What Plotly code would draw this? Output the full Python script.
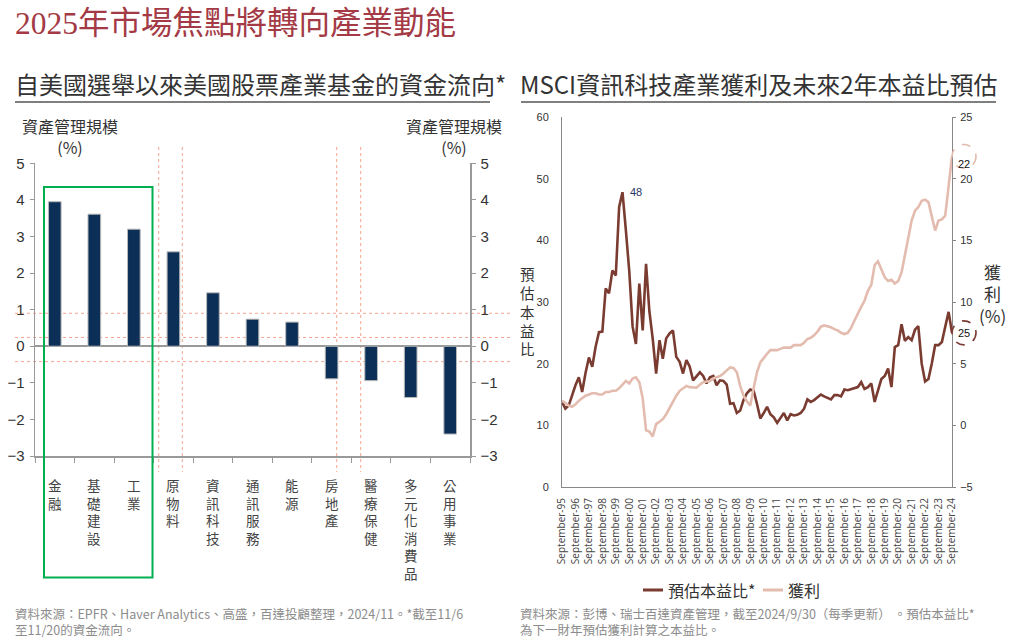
import plotly.graph_objects as go

# ---------------- data ----------------
sectors = ["金融", "基礎建設", "工業", "原物料", "資訊科技", "通訊服務",
           "能源", "房地產", "醫療保健", "多元化消費品", "公用事業"]
flows = [3.95, 3.61, 3.20, 2.58, 1.46, 0.74, 0.66, -0.89, -0.94, -1.40, -2.40]

# quarterly, Sep-1995 .. Sep-2024
pe = [13.8, 12.7, 13.2, 15.0, 16.5, 17.8, 15.4, 18.5, 21.0, 19.5,
      22.7, 25.1, 25.2, 32.2, 31.4, 35.1, 34.3, 45.4, 47.8, 41.6,
      35.0, 26.0, 23.2, 33.0, 25.4, 36.2, 28.5, 24.0, 18.4, 23.8,
      20.8, 24.1, 24.9, 25.4, 21.1, 20.3, 18.4, 20.6, 19.5, 17.3,
      17.9, 18.6, 18.0, 16.8, 17.8, 18.0, 16.5, 17.3, 17.2, 16.6,
      13.5, 13.6, 12.0, 12.4, 14.1, 15.2, 15.8, 15.6, 13.5, 11.1,
      12.0, 13.0, 11.8, 11.3, 10.4, 11.2, 12.0, 10.8, 11.8, 11.6,
      11.7, 12.0, 12.7, 14.2, 13.8, 14.1, 14.5, 15.0, 14.7, 14.5,
      14.2, 14.9, 14.9, 14.7, 15.8, 15.7, 15.9, 16.1, 16.2, 17.0,
      15.9, 16.2, 16.8, 13.8, 15.5, 17.5, 18.0, 19.2, 16.2, 22.7,
      23.0, 26.4, 23.7, 24.3, 23.8, 25.5, 26.1, 20.0, 17.1, 17.5,
      20.0, 23.0, 23.0, 23.5, 26.0, 28.4, 25.0]
earnings = [2.0, 1.8, 1.6, 1.5, 1.7, 2.0, 2.2, 2.4, 2.5, 2.6,
            2.6, 2.5, 2.5, 2.7, 2.7, 2.8, 2.8, 3.0, 3.3, 3.6,
            3.4, 3.8, 3.9, 3.5, 2.2, -0.4, -0.5, -0.9, 0.1, 0.3,
            0.5, 0.9, 1.4, 2.0, 2.4, 2.8, 3.0, 3.2, 3.1, 3.1,
            3.05, 3.3, 3.5, 3.55, 3.6, 3.8, 3.9, 4.0, 4.2, 4.45,
            4.7, 4.65, 4.3, 3.2, 2.4, 1.95, 1.6, 3.0, 4.3, 5.1,
            5.5, 5.8, 6.1, 6.1, 6.1, 6.2, 6.3, 6.3, 6.3, 6.5,
            6.5, 6.5, 6.7, 7.0, 7.1, 7.3, 7.6, 8.0, 8.1, 8.05,
            7.95, 7.8, 7.7, 7.5, 7.4, 7.5, 7.9, 8.5, 9.1, 9.6,
            10.1, 10.9, 11.4, 13.0, 13.3, 12.6, 12.0, 11.7, 11.8, 11.5,
            11.7, 12.4, 13.7, 15.3, 16.6, 17.4, 17.7, 18.2, 18.3, 18.1,
            17.0, 15.8, 16.6, 16.7, 17.0, 19.5, 21.8]
tick_years = list(range(1995, 2025))

dates = []
for k in range(len(pe)):
    m = 9 + 3 * k
    dates.append(f"{1995 + (m - 1) // 12}-{(m - 1) % 12 + 1:02d}-01")
tickvals = [f"{y}-09-01" for y in tick_years]
ticktext = [f"September-{y % 100:02d}" for y in tick_years]

# ---------------- helpers ----------------
W, H = 1019, 638
def fx(p): return p / W
def fy(p): return 1 - p / H

CJK = "Noto Sans CJK TC, Noto Sans CJK SC, sans-serif"
NARROW = "Liberation Sans Narrow, Arial Narrow, Liberation Sans, sans-serif"
DARK = "#7a3b31"
LIGHT = "#e3bcaf"
NAVY = "#0b2f56"

PE_RANGE = [0, 60]
EARN_RANGE = [-5, 25]
RIGHT_DOMAIN = [fy(487), fy(117)]

fig = go.Figure()

# left: bar chart
fig.add_trace(go.Bar(x=sectors, y=flows, width=0.32, xaxis="x", yaxis="y",
                     marker=dict(color=NAVY, line=dict(color="#b8b8b8", width=1)),
                     showlegend=False))
fig.add_trace(go.Scatter(x=[sectors[0]], y=[0], xaxis="x", yaxis="y2", mode="markers",
                         marker=dict(opacity=0), showlegend=False, hoverinfo="skip"))

# right: lines
fig.add_trace(go.Scatter(x=dates, y=earnings, xaxis="x2", yaxis="y4", mode="lines",
                         line=dict(color=LIGHT, width=2.6), name="獲利", showlegend=False))
fig.add_trace(go.Scatter(x=dates, y=pe, xaxis="x2", yaxis="y3", mode="lines",
                         line=dict(color=DARK, width=2.6), name="預估本益比*", showlegend=False))

axis_num_font = dict(family=NARROW, size=15, color="#333")
small_font = dict(family=NARROW, size=11, color="#333")

fig.update_layout(
    template="none",
    width=W, height=H, autosize=False,
    margin=dict(l=0, r=0, t=0, b=0, pad=0),
    paper_bgcolor="white", plot_bgcolor="rgba(0,0,0,0)",
    xaxis=dict(domain=[fx(35), fx(470)], anchor="y", type="category", automargin=False,
               range=[-0.5, len(sectors) - 0.5], showline=True, linecolor="#999",
               linewidth=2, showticklabels=False, ticks="outside", tickson="boundaries",
               ticklen=5, tickcolor="#999", showgrid=False, zeroline=False),
    yaxis=dict(domain=[fy(456), fy(163.3)], anchor="x", range=[-3, 5], dtick=1,
               automargin=False,
               showline=True, linecolor="#999", linewidth=1.5, ticks="outside",
               ticklen=4, tickcolor="#999", zeroline=True, zerolinecolor="#999",
               zerolinewidth=2, showgrid=False, tickfont=axis_num_font,
               ticklabelstandoff=2),
    yaxis2=dict(overlaying="y", side="right", anchor="x", range=[-3, 5], dtick=1,
                automargin=False,
                showline=True, linecolor="#999", linewidth=1.5, ticks="outside",
                ticklen=4, tickcolor="#999", zeroline=False, showgrid=False,
                tickfont=axis_num_font, ticklabelstandoff=2),
    xaxis2=dict(domain=[fx(562), fx(952)], anchor="y3", type="date", automargin=False,
                range=[dates[0], dates[-1]], tickvals=tickvals, ticktext=ticktext,
                tickangle=-90, tickfont=dict(family="Open Sans, sans-serif", size=10, color="#444"),
                showline=True, linecolor="#888", linewidth=1, showgrid=False,
                ticks="", ticklabelstandoff=6, zeroline=False),
    yaxis3=dict(domain=RIGHT_DOMAIN, anchor="x2", range=PE_RANGE, dtick=10,
                automargin=False,
                showline=True, linecolor="#888", linewidth=1, showgrid=False,
                zeroline=False, ticks="", tickfont=small_font, ticklabelstandoff=10),
    yaxis4=dict(overlaying="y3", side="right", anchor="x2", range=EARN_RANGE, dtick=5,
                automargin=False,
                showline=True, linecolor="#888", linewidth=1, showgrid=False,
                zeroline=False, ticks="outside", ticklen=3, tickcolor="#888",
                tickfont=small_font, ticklabelstandoff=2),
)

shapes = []
annotations = []

def text(x, y, s, size, color="#333", xanchor="left", yanchor="middle", family=CJK, **kw):
    annotations.append(dict(x=x, y=y, xref="paper", yref="paper", text=s, showarrow=False,
                            xanchor=xanchor, yanchor=yanchor, borderpad=0,
                            font=dict(family=family, size=size, color=color), **kw))

# titles
text(fx(14), fy(23), "2025年市場焦點將轉向產業動能", 31.5, color="#a33a45",
     family="Liberation Serif, Noto Sans CJK TC, serif")
text(fx(14), fy(83), "自美國選舉以來美國股票產業基金的資金流向*", 24, color="#333")
text(fx(519), fy(83), "MSCI資訊科技產業獲利及未來2年本益比預估", 24, color="#333")
for x0, x1 in [(15, 490), (521, 996)]:
    shapes.append(dict(type="line", xref="paper", yref="paper", x0=fx(x0), x1=fx(x1),
                       y0=fy(102), y1=fy(102), line=dict(color="#555", width=1.5)))

# left axis titles
text(fx(70), fy(136), "資產管理規模<br>(%)", 16, xanchor="center")
text(fx(454), fy(136), "資產管理規模<br>(%)", 16, xanchor="center")

# vertical category labels (one glyph per line)
for name in sectors:
    annotations.append(dict(x=name, y=fy(474), xref="x", yref="paper",
                            text="<br>".join(name), showarrow=False, xanchor="center",
                            yanchor="top", borderpad=0,
                            font=dict(family=CJK, size=13.5, color="#444")))

# dotted guides
guide = dict(color="#f5a58f", width=1, dash="dot")
for yv in [0.9, 0.24, -0.42]:
    shapes.append(dict(type="line", xref="paper", yref="y", x0=fx(15), x1=fx(510),
                       y0=yv, y1=yv, line=guide, layer="below"))
for xp in [158.7, 182.3, 336.7, 360.7]:
    shapes.append(dict(type="line", xref="paper", yref="paper", x0=fx(xp), x1=fx(xp),
                       y0=fy(147), y1=fy(472), line=guide, layer="below"))

# green highlight box
shapes.append(dict(type="rect", xref="paper", yref="paper", x0=fx(44), x1=fx(152.5),
                   y0=fy(187), y1=fy(577.5), line=dict(color="#00b050", width=2)))

# right chart axis titles
text(fx(527), fy(311), "<br>".join("預估本益比"), 14.5, xanchor="center")
text(fx(992), fy(293), "獲<br>利<br>(%)", 17, xanchor="center")

# peak label
imax = max(range(len(pe)), key=lambda i: pe[i])
annotations.append(dict(x=dates[imax], y=pe[imax], xref="x2", yref="y3",
                        text=f"{round(pe[imax])}", showarrow=False, xshift=14,
                        font=dict(family=NARROW, size=11, color="#1f3864")))

# end-value labels with dashed circles (positioned through the axis scales)
def to_paper(val, rng):
    d0, d1 = RIGHT_DOMAIN
    return d0 + (val - rng[0]) / (rng[1] - rng[0]) * (d1 - d0)

for val, rng, col in [(earnings[-1], EARN_RANGE, LIGHT), (pe[-1], PE_RANGE, DARK)]:
    yp = to_paper(val, rng)
    annotations.append(dict(x=fx(964), y=yp, xref="paper", yref="paper",
                            text=f"{round(val)}", showarrow=False, xanchor="center",
                            font=dict(family=NARROW, size=11, color="#111")))
    shapes.append(dict(type="circle", xref="paper", yref="paper",
                       xsizemode="pixel", xanchor=fx(964), x0=-12, x1=12,
                       ysizemode="pixel", yanchor=yp, y0=-12, y1=12,
                       line=dict(color=col, width=1.6, dash="dash")))

# legend (manual)
shapes.append(dict(type="line", xref="paper", yref="paper", x0=fx(643), x1=fx(663),
                   y0=fy(590), y1=fy(590), line=dict(color=DARK, width=3)))
text(fx(667), fy(590), "預估本益比*", 16)
shapes.append(dict(type="line", xref="paper", yref="paper", x0=fx(763), x1=fx(783),
                   y0=fy(590), y1=fy(590), line=dict(color=LIGHT, width=3)))
text(fx(787), fy(590), "獲利", 16)

# footnotes
grey = "#8c8c8c"
text(fx(14), fy(621), "資料來源：EPFR、Haver Analytics、高盛，百達投顧整理，2024/11。*截至11/6<br>至11/20的資金流向。",
     12.5, color=grey, align="left")
text(fx(519), fy(621), "資料來源：彭博、瑞士百達資產管理，截至2024/9/30（每季更新） 。預估本益比*<br>為下一財年預估獲利計算之本益比。",
     12.5, color=grey, align="left")

fig.update_layout(shapes=shapes, annotations=annotations)
fig.write_html("out.html", config={"displayModeBar": False, "staticPlot": True},
               post_script="document.body.style.margin='0';document.body.style.overflow='hidden';")
